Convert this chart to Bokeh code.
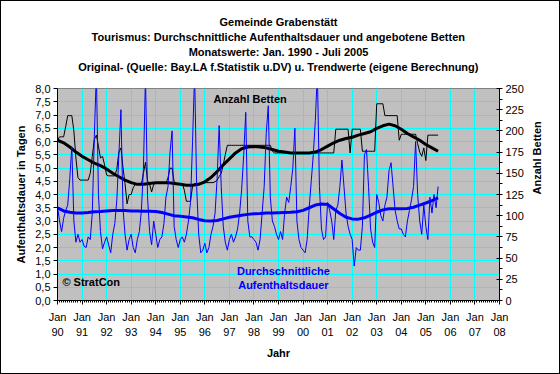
import math
from bokeh.plotting import figure
from bokeh.models import Range1d, LinearAxis, FixedTicker, Label, Title, CustomJSTickFormatter, InlineStyleSheet
from bokeh.embed import file_html
from bokeh.resources import INLINE

# ---- monthly average length of stay (days), Jan..Dec per year ----
dauer_1990 = [3.55, 3.0, 2.6, 3.1, 3.4, 3.6, 4.6, 5.8, 3.0, 2.2, 2.5, 2.2]
dauer_1991 = [2.3, 2.05, 2.0, 2.4, 2.3, 3.3, 6.2, 8.6, 4.0, 2.6, 1.95, 2.2]
dauer_1992 = [2.4, 2.1, 1.8, 2.5, 2.9, 3.8, 5.5, 7.2, 3.5, 2.5, 1.9, 2.3]
dauer_1993 = [2.5, 2.0, 1.8, 2.3, 2.6, 3.4, 5.0, 8.5, 3.9, 2.6, 2.1, 3.0]
dauer_1994 = [2.5, 2.0, 2.3, 2.4, 2.9, 3.9, 4.3, 5.6, 6.4, 2.8, 2.3, 2.0]
dauer_1995 = [2.3, 2.4, 2.2, 2.5, 3.0, 3.7, 6.0, 8.6, 4.3, 2.5, 1.8, 1.9]
dauer_1996 = [2.16, 1.8, 2.0, 2.5, 2.8, 3.3, 4.6, 6.6, 4.3, 2.8, 2.2, 1.9]
dauer_1997 = [2.3, 2.5, 2.2, 2.4, 2.7, 3.3, 4.2, 5.5, 7.1, 3.0, 2.4, 2.4]
dauer_1998 = [2.3, 2.2, 1.9, 2.3, 3.3, 4.3, 6.3, 7.35, 3.9, 3.0, 2.8, 2.5]
dauer_1999 = [2.3, 2.6, 2.3, 3.3, 3.9, 3.7, 4.3, 5.0, 6.5, 3.0, 2.3, 2.0]
dauer_2000 = [1.9, 1.8, 2.3, 3.5, 4.5, 5.5, 6.8, 8.6, 4.3, 2.7, 2.3, 2.4]
dauer_2001 = [3.7, 3.4, 3.0, 2.3, 3.4, 3.6, 4.3, 5.3, 4.3, 3.3, 2.8, 2.5]
dauer_2002 = [2.3, 1.3, 2.0, 1.9, 1.9, 2.8, 5.5, 5.7, 4.3, 2.7, 2.2, 2.0]
dauer_2003 = [4.0, 3.7, 3.2, 3.0, 3.6, 3.9, 4.9, 5.2, 4.3, 3.4, 3.0, 2.7]
dauer_2004 = [2.7, 2.5, 2.4, 3.0, 3.4, 3.8, 4.3, 6.0, 4.0, 3.0, 2.5, 3.6]
dauer_2005 = [2.8, 2.3, 3.9, 3.3, 4.0, 3.5, 4.3]

# ---- monthly number of beds offered ----
betten_1990 = [189, 193, 193, 193, 205, 218, 218, 218, 200, 168, 145, 142]
betten_1991 = [142, 142, 142, 142, 150, 170, 190, 195, 182, 168, 170, 160]
betten_1992 = [148, 147, 147, 147, 147, 155, 175, 180, 157, 138, 114, 125]
betten_1993 = [125, 133, 137, 137, 137, 137, 150, 163, 141, 137, 128, 137]
betten_1994 = [138, 138, 138, 138, 138, 138, 145, 156, 156, 140, 138, 138]
betten_1995 = [138, 138, 130, 117, 117, 117, 135, 138, 138, 138, 138, 138]
betten_1996 = [139, 139, 139, 139, 139, 140, 142, 146, 150, 160, 172, 183]
betten_1997 = [183, 183, 183, 183, 183, 183, 183, 183, 183, 183, 183, 183]
betten_1998 = [183, 183, 183, 183, 183, 183, 183, 183, 183, 176, 174, 174]
betten_1999 = [174, 174, 174, 174, 174, 174, 174, 174, 174, 174, 174, 174]
betten_2000 = [174, 174, 174, 174, 174, 174, 174, 174, 174, 174, 174, 174]
betten_2001 = [174, 174, 174, 174, 202, 202, 202, 202, 202, 202, 202, 174]
betten_2002 = [202, 202, 202, 202, 202, 176, 176, 176, 176, 176, 176, 176]
betten_2003 = [232, 232, 232, 232, 218, 218, 218, 218, 218, 218, 218, 189]
betten_2004 = [196, 196, 196, 196, 196, 196, 196, 196, 185, 175, 170, 180]
betten_2005 = [165, 195, 195, 195, 195, 195, 195]

# ---- trend values, quarterly from Jan 1990 to Jul 2005 ----
trend_dauer = [3.50, 3.38, 3.33, 3.30, 3.30, 3.32, 3.35, 3.36,
               3.38, 3.40, 3.40, 3.40, 3.38, 3.38, 3.37, 3.37,
               3.36, 3.32, 3.26, 3.20, 3.18, 3.15, 3.12, 3.06,
               3.01, 3.00, 3.02, 3.08, 3.14, 3.18, 3.22, 3.25,
               3.27, 3.28, 3.30, 3.30, 3.31, 3.32, 3.33, 3.35,
               3.40, 3.50, 3.60, 3.64, 3.62, 3.45, 3.28, 3.14,
               3.08, 3.07, 3.12, 3.22, 3.33, 3.42, 3.46, 3.46,
               3.46, 3.47, 3.52, 3.60, 3.68, 3.77, 3.87]
trend_betten = [189, 186, 181, 175, 170, 166, 162, 159,
                155, 150, 146, 142, 139, 137, 137, 138,
                139, 139, 139, 138, 137, 136, 136, 137,
                140, 145, 152, 160, 167, 174, 179, 181,
                181.5, 181, 180, 178, 176, 175, 174, 174,
                174, 174, 175, 178, 182, 186, 189, 191,
                192.5, 195, 197, 199, 203, 206, 208, 206,
                202, 197, 193, 189, 184, 180, 176]

tick_years = list(range(1990, 2009))
dauer_ticks = [i * 0.5 for i in range(17)]
betten_ticks = list(range(0, 251, 25))

dauer = (dauer_1990 + dauer_1991 + dauer_1992 + dauer_1993 + dauer_1994 + dauer_1995 +
         dauer_1996 + dauer_1997 + dauer_1998 + dauer_1999 + dauer_2000 + dauer_2001 +
         dauer_2002 + dauer_2003 + dauer_2004 + dauer_2005)
betten = (betten_1990 + betten_1991 + betten_1992 + betten_1993 + betten_1994 + betten_1995 +
          betten_1996 + betten_1997 + betten_1998 + betten_1999 + betten_2000 + betten_2001 +
          betten_2002 + betten_2003 + betten_2004 + betten_2005)
x_month = [1990 + i / 12 for i in range(len(dauer))]
x_quarter = [1990 + i / 4 for i in range(len(trend_dauer))]

FONT = "Liberation Sans"

p = figure(frame_width=442, frame_height=212,
           min_border_left=57, min_border_right=61, min_border_top=88, min_border_bottom=74,
           x_range=Range1d(1990, 2008), y_range=Range1d(0, 8),
           output_backend="svg", toolbar_location=None)
p.stylesheets = [InlineStyleSheet(css=":host::after{content:'';position:absolute;left:0;top:0;"
                                      "width:560px;height:374px;box-sizing:border-box;"
                                      "border:1px solid black;pointer-events:none;z-index:1000;}")]
p.background_fill_color = "#C0C0C0"
p.border_fill_color = "white"
p.outline_line_color = "#808080"

# titles (spacer first, then bottom line first)
title_lines = ["Gemeinde Grabenstätt",
               "Tourismus: Durchschnittliche Aufenthaltsdauer und angebotene Betten",
               "Monatswerte: Jan. 1990 - Juli 2005",
               "Original- (Quelle: Bay.LA f.Statistik u.DV) u. Trendwerte (eigene Berechnung)"]
p.title.text = ""
p.add_layout(Title(text="\u00a0", text_font=FONT, text_font_size="11px", standoff=1), "above")
for t in reversed(title_lines):
    p.add_layout(Title(text=t, align="center", text_font=FONT, text_font_size="11px",
                       text_font_style="bold", text_color="black", standoff=1), "above")

# grid
p.xgrid.ticker = FixedTicker(ticks=tick_years)
p.ygrid.ticker = FixedTicker(ticks=dauer_ticks)
p.xgrid.grid_line_color = "#00FFFF"
p.ygrid.grid_line_color = "#00FFFF"
p.xgrid.grid_line_width = 1
p.ygrid.grid_line_width = 1

# x axis
month_minor = [1990 + i / 12 for i in range(18 * 12 + 1)]
xa = p.xaxis[0]
xa.ticker = FixedTicker(ticks=tick_years, minor_ticks=month_minor)
xa.formatter = CustomJSTickFormatter(code="return 'Jan\\n' + String(Math.round(tick) % 100).padStart(2, '0');")
xa.axis_label = "Jahr"
xa.major_tick_out = 4
xa.major_tick_in = 0
xa.minor_tick_out = 2
xa.minor_tick_in = 0
xa.major_label_standoff = 6
xa.axis_label_standoff = 6

# left axis
ya = p.yaxis[0]
ya.ticker = FixedTicker(ticks=dauer_ticks)
ya.formatter = CustomJSTickFormatter(code="return tick.toFixed(1).replace('.', ',');")
ya.axis_label = "Aufenthaltsdauer in Tagen"
ya.major_tick_out = 4
ya.major_tick_in = 0
ya.minor_tick_line_color = None
ya.major_label_standoff = 3
ya.axis_label_standoff = 5

# right axis
p.extra_y_ranges = {"betten": Range1d(0, 250)}
ra = LinearAxis(y_range_name="betten", axis_label="Anzahl Betten",
                ticker=FixedTicker(ticks=betten_ticks, minor_ticks=[12.5 + 25 * k for k in range(10)]))
ra.major_tick_out = 3
ra.major_tick_in = 3
ra.minor_tick_out = 3
ra.minor_tick_in = 0
ra.major_label_standoff = 3
ra.axis_label_standoff = 10
try:
    ra.axis_label_orientation = math.pi / 2
except Exception:
    pass
p.add_layout(ra, "right")

for ax in [xa, ya, ra]:
    ax.axis_line_color = "black"
    ax.major_tick_line_color = "black"
    ax.major_label_text_font = FONT
    ax.major_label_text_font_size = "11px"
    ax.major_label_text_color = "black"
    ax.axis_label_text_font = FONT
    ax.axis_label_text_font_size = "11px"
    ax.axis_label_text_font_style = "bold"
    ax.axis_label_text_color = "black"
xa.minor_tick_line_color = "black"
ra.minor_tick_line_color = "black"
xa.major_label_text_line_height = 1.3

# data lines
p.line(x_month, betten, y_range_name="betten", line_color="black", line_width=1)
p.line(x_quarter, trend_betten, y_range_name="betten", line_color="black", line_width=3)
p.line(x_month, dauer, line_color="#0000FF", line_width=1)
p.line(x_quarter, trend_dauer, line_color="#0000FF", line_width=3)

# in-plot labels
p.add_layout(Label(x=1996.35, y=7.62, text="Anzahl Betten", text_font=FONT,
                   text_font_size="11px", text_font_style="bold", text_color="black",
                   text_baseline="middle", text_align="left"))
p.add_layout(Label(x=1999.2, y=1.13, text="Durchschnittliche", text_font=FONT,
                   text_font_size="11px", text_font_style="bold", text_color="#0000FF",
                   text_baseline="middle", text_align="center"))
p.add_layout(Label(x=1999.2, y=0.6, text="Aufenthaltsdauer", text_font=FONT,
                   text_font_size="11px", text_font_style="bold", text_color="#0000FF",
                   text_baseline="middle", text_align="center"))
p.add_layout(Label(x=1990.2, y=0.68, text="© StratCon", text_font=FONT,
                   text_font_size="11px", text_font_style="bold", text_color="black",
                   text_baseline="middle", text_align="left"))

open("out.html", "w").write(file_html(p, INLINE))
